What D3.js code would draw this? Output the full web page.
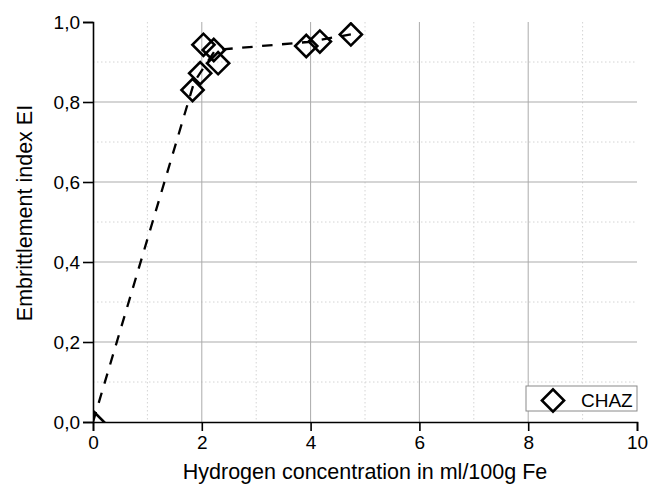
<!DOCTYPE html>
<html>
<head>
<meta charset="utf-8">
<script src="https://cdn.jsdelivr.net/npm/d3@7"></script>
<style>
  body { margin: 0; background: #fff; }
  svg { font-family: "Liberation Sans", Arial, sans-serif; }
</style>
</head>
<body>
<svg id="chart" width="657" height="488"></svg>
<script>
// measured points, CHAZ series
var hydrogen = [0, 1.83, 1.97, 2.03, 2.22, 2.30, 3.92, 4.17, 4.74];
var embrittlement = [0, 0.830, 0.872, 0.943, 0.930, 0.897, 0.940, 0.951, 0.969];

// dashed guide line drawn by eye
var guideX = [0, 1.86, 2.25, 3.95, 4.74];
var guideY = [0, 0.85, 0.93, 0.95, 0.969];

var xTicks = [0, 2, 4, 6, 8, 10];
var xTickLabels = ["0", "2", "4", "6", "8", "10"];
var yTicks = [0, 0.2, 0.4, 0.6, 0.8, 1.0];
var yTickLabels = ["0,0", "0,2", "0,4", "0,6", "0,8", "1,0"];
var seriesName = "CHAZ";

function draw() {
  var svgElement = document.getElementById('chart');
  var svgWidth = svgElement.clientWidth;
  var svgHeight = svgElement.clientHeight;
  var margin = {top: 22, right: 20, bottom: 66, left: 93};
  var w = svgWidth - margin.left - margin.right;
  var h = svgHeight - margin.top - margin.bottom;

  var svg = d3.select("#chart")
    .append("g")
    .attr("transform", "translate(" + margin.left + "," + margin.top + ")");

  var x = d3.scaleLinear().domain([0, 10]).range([0, w]);
  var y = d3.scaleLinear().domain([0, 1]).range([h, 0]);

  svg.append("defs").append("clipPath").attr("id", "plotclip")
    .append("rect").attr("width", w).attr("height", h);

  // minor grid (dotted)
  var xMinor = [1, 3, 5, 7, 9];
  var yMinor = [0.1, 0.3, 0.5, 0.7, 0.9];
  svg.selectAll(".gxm").data(xMinor).enter().append("line")
    .attr("x1", function(d) { return x(d); }).attr("x2", function(d) { return x(d); })
    .attr("y1", 0).attr("y2", h)
    .attr("stroke", "#d4d4d4").attr("stroke-dasharray", "1.5,2.5");
  svg.selectAll(".gym").data(yMinor).enter().append("line")
    .attr("y1", function(d) { return y(d); }).attr("y2", function(d) { return y(d); })
    .attr("x1", 0).attr("x2", w)
    .attr("stroke", "#d4d4d4").attr("stroke-dasharray", "1.5,2.5");

  // major grid
  svg.selectAll(".gx").data(xTicks.slice(1, -1)).enter().append("line")
    .attr("x1", function(d) { return x(d); }).attr("x2", function(d) { return x(d); })
    .attr("y1", 0).attr("y2", h)
    .attr("stroke", "#ababab").attr("stroke-width", 1);
  svg.selectAll(".gy").data(yTicks.slice(1, -1)).enter().append("line")
    .attr("y1", function(d) { return y(d); }).attr("y2", function(d) { return y(d); })
    .attr("x1", 0).attr("x2", w)
    .attr("stroke", "#ababab").attr("stroke-width", 1);

  // axes
  var xAxis = svg.append("g").attr("transform", "translate(0," + h + ")");
  xAxis.call(d3.axisBottom(x).tickValues(d3.range(0, 10.5, 1)).tickSize(5).tickFormat(""));
  xAxis.call(d3.axisBottom(x).tickValues(xTicks).tickSize(9).tickPadding(5)
    .tickFormat(function(d, i) { return xTickLabels[i]; }));
  var yAxis = svg.append("g");
  yAxis.call(d3.axisLeft(y).tickValues(d3.range(0, 1.05, 0.1)).tickSize(5).tickFormat(""));
  yAxis.call(d3.axisLeft(y).tickValues(yTicks).tickSize(10).tickPadding(3)
    .tickFormat(function(d, i) { return yTickLabels[i]; }));

  svg.selectAll(".domain").attr("stroke", "#000").attr("stroke-width", 1.6);
  svg.selectAll(".tick line").attr("stroke", "#000").attr("stroke-width", 1.6);
  svg.selectAll(".tick text").attr("fill", "#000")
    .style("font-size", "19px").style("font-family", "Liberation Sans, Arial, sans-serif");

  // guide line
  var guide = guideX.map(function(d, i) { return [d, guideY[i]]; });
  svg.append("path")
    .datum(guide)
    .attr("clip-path", "url(#plotclip)")
    .attr("d", d3.line().x(function(d) { return x(d[0]); }).y(function(d) { return y(d[1]); }))
    .attr("fill", "none").attr("stroke", "#000").attr("stroke-width", 2.3)
    .attr("stroke-dasharray", "10.5,9.5");

  // markers
  var diamond = d3.symbol().type(d3.symbolSquare).size(245);
  var pts = hydrogen.map(function(d, i) { return [d, embrittlement[i]]; });
  svg.append("g").attr("clip-path", "url(#plotclip)")
    .selectAll("path").data(pts).enter().append("path")
    .attr("d", diamond)
    .attr("transform", function(d) { return "translate(" + x(d[0]) + "," + y(d[1]) + ") rotate(45)"; })
    .attr("fill", "none").attr("stroke", "#000").attr("stroke-width", 2.6);

  // legend
  var lg = svg.append("g").attr("transform", "translate(" + (w - 111) + "," + (h - 36) + ")");
  lg.append("rect").attr("width", 111).attr("height", 25)
    .attr("fill", "#fff").attr("stroke", "#8a8a8a").attr("stroke-width", 1);
  lg.append("path").attr("d", diamond)
    .attr("transform", "translate(27,14.5) rotate(45)")
    .attr("fill", "none").attr("stroke", "#000").attr("stroke-width", 2.6);
  lg.append("text").attr("x", 55).attr("y", 20.5)
    .style("font-size", "19px").text(seriesName);

  // axis titles
  d3.select("#chart").append("text")
    .attr("x", 365).attr("y", 479)
    .attr("text-anchor", "middle").style("font-size", "21.5px")
    .text("Hydrogen concentration in ml/100g Fe");
  d3.select("#chart").append("text")
    .attr("transform", "translate(32,213) rotate(-90)")
    .attr("text-anchor", "middle").style("font-size", "21.5px")
    .text("Embrittlement index EI");
}

draw();
</script>
</body>
</html>
